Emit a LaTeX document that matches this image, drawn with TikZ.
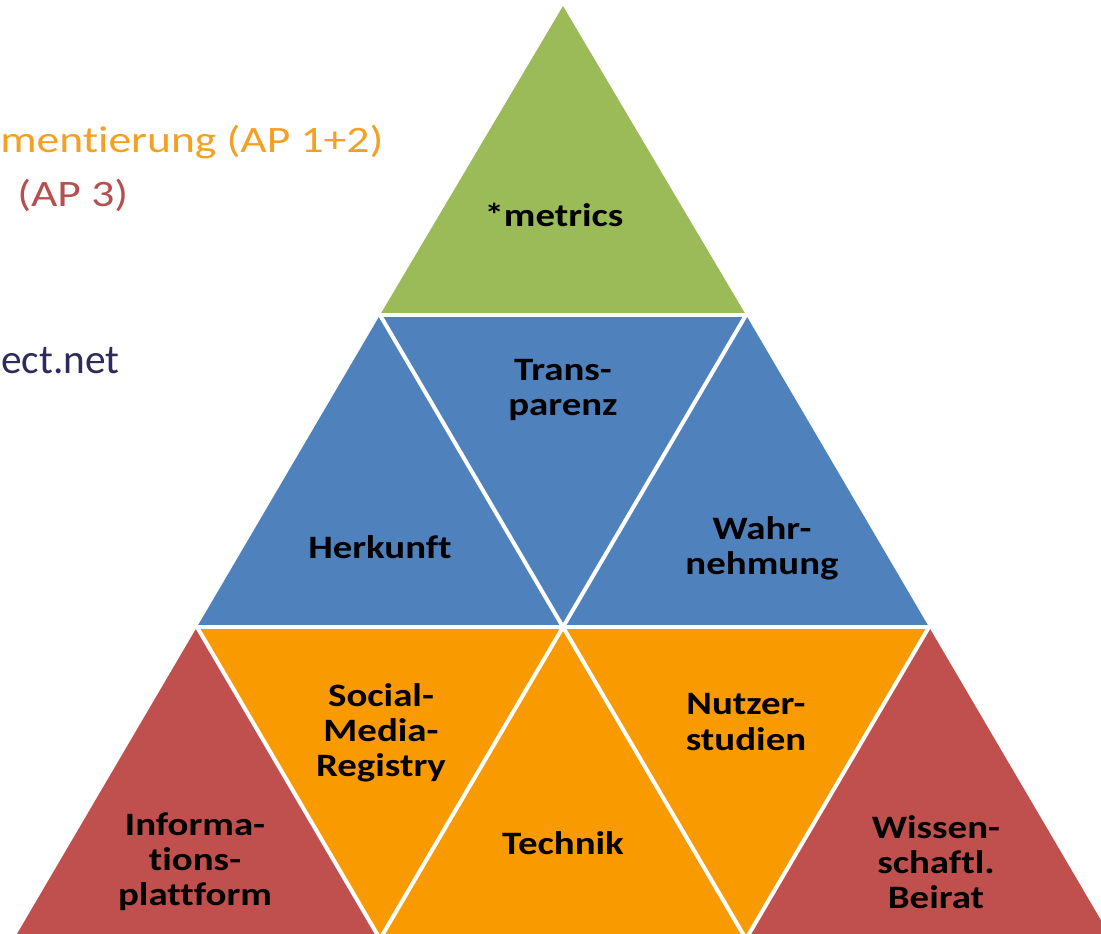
\documentclass[tikz,border=0pt]{standalone}
\usepackage{fontspec}
\setmainfont{Carlito}[Ligatures=NoCommon]
\newfontfamily\lblfont{Carlito}[FakeStretch=1.19, Ligatures=NoCommon]
\newfontfamily\sidefont{Carlito}[FakeStretch=1.22, Ligatures=NoCommon]
\newfontfamily\urlfont{Carlito}[Ligatures=NoCommon]
\definecolor{cgreen}{HTML}{9BBB59}
\definecolor{cblue}{HTML}{4F81BD}
\definecolor{corange}{HTML}{F89A00}
\definecolor{cred}{HTML}{C0504D}
\definecolor{torange}{HTML}{F5A023}
\definecolor{tred}{HTML}{B5504F}
\definecolor{tpurple}{HTML}{2F2A5C}
\tikzset{
  lbl/.style={font=\lblfont\fontsize{24.5}{26.3}\selectfont\bfseries, align=center, text=black, inner sep=0pt},
  gap/.style={draw=white, line width=3pt},
  side/.style={font=\sidefont\fontsize{28}{34}\selectfont, anchor=base west, inner sep=0pt}
}
\begin{document}
\begin{tikzpicture}[x=0.75pt,y=-0.75pt]
\useasboundingbox (0,0) rectangle (1101,933);
\begin{scope}
\clip (0,0) rectangle (1101,933);
% lattice
\coordinate (A) at (563,6);
\coordinate (L1a) at (380,315);
\coordinate (L1b) at (746,315);
\coordinate (L2a) at (197,627);
\coordinate (L2b) at (563,627);
\coordinate (L2c) at (929,627);
\coordinate (L3a) at (14,939);
\coordinate (L3b) at (380,939);
\coordinate (L3c) at (746,939);
\coordinate (L3d) at (1112,939);
% fills
\fill[cgreen] (A) -- (L1b) -- (L1a) -- cycle;
\fill[cblue] (L1a) -- (L1b) -- (L2c) -- (L2a) -- cycle;
\fill[corange] (L2a) -- (L2c) -- (L3c) -- (L3b) -- cycle;
\fill[cred] (L2a) -- (L3b) -- (L3a) -- cycle;
\fill[cred] (L2c) -- (L3d) -- (L3c) -- cycle;
% gaps
\draw[gap] (L1a) -- (L1b);
\draw[gap] (L2a) -- (L2c);
\draw[gap] (L1a) -- (L2b) -- (L1b);
\draw[gap] (L2a) -- (L3b) -- (L2b) -- (L3c) -- (L2c);
% side texts
\node[side, text=torange] (t1) at (0,152) {mentierung (AP 1+2)};
\node[side, text=tred] (t2) at (17,206) {(AP 3)};
\node[side, text=tpurple, font=\urlfont\fontsize{31}{37}\selectfont] (t3) at (1,373) {ect.net};
\end{scope}
% labels
\node[lbl] (metrics) at (554,215) {*metrics};
\node[lbl] (transp) at (563,390) {Trans-\\parenz};
\node[lbl] (herk) at (380,547) {Herkunft};
\node[lbl] (wahr) at (762,548) {Wahr-\\nehmung};
\node[lbl] (smr) at (381,733) {Social-\\Media-\\Registry};
\node[lbl] (info) at (195,862) {Informa-\\tions-\\plattform};
\node[lbl] (tech) at (563,843) {Technik};
\node[lbl] (nutz) at (746,722) {Nutzer-\\studien};
\node[lbl] (wiss) at (936,862) {Wissen-\\schaftl.\\Beirat};
\end{tikzpicture}
\end{document}
